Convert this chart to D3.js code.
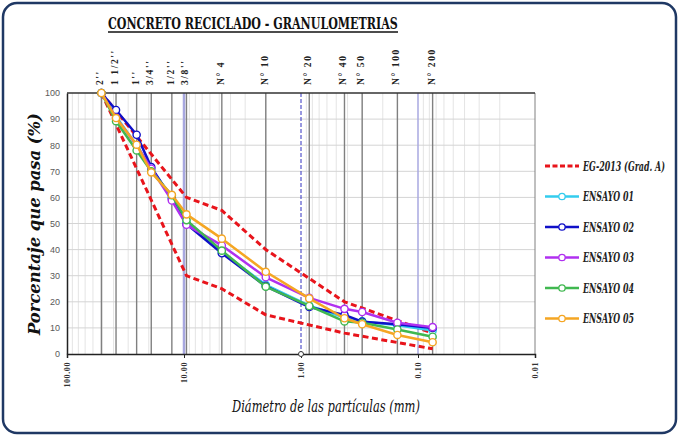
<!DOCTYPE html>
<html><head><meta charset="utf-8">
<script src="https://cdn.jsdelivr.net/npm/d3@7"></script>
<style>html,body{margin:0;padding:0;background:#fff;}svg{display:block;}</style>
</head><body>
<svg id="chart" width="679" height="436"></svg>
<script>
// ---- data ----
const sieveLabels = ["2''", "1 1/2''", "1''", "3/4''", "1/2''", "3/8''", "N° 4", "N° 10", "N° 20", "N° 40", "N° 50", "N° 100", "N° 200"];
const sieveSizes = [50.8, 38.1, 25.4, 19.05, 12.7, 9.525, 4.75, 2.0, 0.85, 0.425, 0.3, 0.15, 0.075];
const ensayo01 = [100, 91, 80, 71, 60, 51, 39, 26.5, 18.5, 14, 12.5, 11, 9];
const ensayo02 = [100, 93.5, 84, 71.6, 59.5, 49.8, 38.6, 26, 18, 15, 12.4, 11.4, 10];
const ensayo03 = [100, 90.5, 80, 71, 58.8, 49.5, 41.6, 29.4, 21.5, 17.3, 16.1, 12, 10.3];
const ensayo04 = [100, 89.2, 78, 70, 60.8, 51.3, 39.6, 25.8, 18.4, 12.5, 12, 9.4, 6.6];
const ensayo05 = [100, 90.4, 80.2, 69.6, 61, 53.5, 44.2, 31.5, 21.3, 13.7, 11.4, 7.3, 4.5];
const egSizes = [50.8, 9.525, 4.75, 2.0, 0.425, 0.075];
const egUpper = [100, 60, 55, 40, 20, 8];
const egLower = [100, 30, 25, 15, 8, 2];
const seriesNames = ["ENSAYO 01", "ENSAYO 02", "ENSAYO 03", "ENSAYO 04", "ENSAYO 05"];
const seriesColors = ["#33CCEE", "#1010C8", "#B030F0", "#40B850", "#F5A623"];
const xTickValues = [100, 10, 1, 0.1, 0.01];
const xTickLabels = ["100.00", "10.00", "1.00", "0.10", "0.01"];
const yTickValues = [0, 10, 20, 30, 40, 50, 60, 70, 80, 90, 100];

const svg = d3.select("#chart");
const L = 67, R = 535, T = 93, B = 354;
const x = d3.scaleLog().domain([100, 0.01]).range([L, R]);
const y = d3.scaleLinear().domain([0, 100]).range([B, T]);

// text squeezed horizontally to a target width (condensed look)
function fitText(parent, tx, ty, rot, str, width, style) {
  const g = parent.append("g").attr("transform", `translate(${tx},${ty}) rotate(${rot})`);
  const t = g.append("text").text(str);
  Object.entries(style).forEach(([k, v]) => t.style(k, v));
  const nat = t.node().getComputedTextLength();
  const s = width / nat;
  t.attr("transform", `scale(${s},1)`);
  return t;
}

svg.append("rect").attr("width", 679).attr("height", 436).attr("fill", "#fff");
svg.append("rect").attr("x", 3).attr("y", 3).attr("width", 673).attr("height", 430)
  .attr("rx", 14).attr("fill", "#fff").attr("stroke", "#1F3864").attr("stroke-width", 2.5);

// minor vertical grid
const minor = [];
for (let e = -2; e <= 1; e++) for (let k = 2; k <= 9; k++) minor.push(k * Math.pow(10, e));
svg.append("g").selectAll("line").data(minor).join("line")
  .attr("x1", d => x(d)).attr("x2", d => x(d)).attr("y1", T).attr("y2", B)
  .attr("stroke", "#E4E4E4").attr("stroke-width", 1);
// horizontal grid
svg.append("g").selectAll("line").data(yTickValues.filter(v => v > 0 && v < 100)).join("line")
  .attr("x1", L).attr("x2", R).attr("y1", d => y(d)).attr("y2", d => y(d))
  .attr("stroke", "#D4D4D4").attr("stroke-width", 1);

// reference lines at 10, 1, 0.1
svg.append("line").attr("x1", x(10)).attr("x2", x(10)).attr("y1", T).attr("y2", B)
  .attr("stroke", "#A8A8E0").attr("stroke-width", 2.5);
svg.append("line").attr("x1", x(0.1)).attr("x2", x(0.1)).attr("y1", T).attr("y2", B)
  .attr("stroke", "#A8A8E0").attr("stroke-width", 1.5);
svg.append("line").attr("x1", x(1)).attr("x2", x(1)).attr("y1", T).attr("y2", B)
  .attr("stroke", "#3030C0").attr("stroke-width", 1).attr("stroke-dasharray", "4,2");

// sieve lines
svg.append("g").selectAll("line").data(sieveSizes).join("line")
  .attr("x1", d => x(d)).attr("x2", d => x(d)).attr("y1", T).attr("y2", B)
  .attr("stroke", "#808080").attr("stroke-width", 1.4);

// frame
svg.append("line").attr("x1", R).attr("x2", R).attr("y1", T).attr("y2", B).attr("stroke", "#808080").attr("stroke-width", 1);
svg.append("line").attr("x1", L).attr("x2", R).attr("y1", T).attr("y2", T).attr("stroke", "#333").attr("stroke-width", 1.5);

// axes
const xAxis = d3.axisBottom(x).tickValues(xTickValues).tickSize(4).tickFormat((d, i) => xTickLabels[i]);
const gx = svg.append("g").attr("transform", `translate(0,${B})`).call(xAxis);
gx.select(".domain").attr("stroke", "#222").attr("stroke-width", 1.5);
gx.selectAll(".tick line").attr("stroke", "#222");
gx.selectAll(".tick text").attr("transform", "rotate(-90)").attr("text-anchor", "end")
  .attr("x", -8).attr("y", 0).attr("dy", "0.32em")
  .style("font-family", "'Liberation Serif', serif").style("font-weight", "bold")
  .style("font-size", "8px").style("letter-spacing", "0.6px").attr("fill", "#333");

const yAxis = d3.axisLeft(y).tickValues(yTickValues).tickSize(0).tickPadding(7);
const gy = svg.append("g").attr("transform", `translate(${L},0)`).call(yAxis);
gy.select(".domain").attr("stroke", "#222").attr("stroke-width", 1.5);
gy.selectAll(".tick text").style("font-family", "'Liberation Sans Narrow','Liberation Sans',sans-serif")
  .style("font-size", "9px").attr("fill", "#595959");

// small marker at 1.00
svg.append("circle").attr("cx", x(1)).attr("cy", B).attr("r", 2.5).attr("fill", "#fff").attr("stroke", "#333").attr("stroke-width", 1);

// top sieve labels
svg.append("g").selectAll("text").data(sieveSizes).join("text")
  .attr("transform", d => `translate(${x(d) + 2},85) rotate(-90)`)
  .attr("text-anchor", "start")
  .style("font-family", "'Liberation Serif', serif").style("font-weight", "bold")
  .style("font-size", "9.5px").style("letter-spacing", "1.6px").attr("fill", "#222")
  .text((d, i) => sieveLabels[i]);

// EG-2013 band
const bandLine = d3.line().x(d => x(d[0])).y(d => y(d[1]));
[egUpper, egLower].forEach(arr => {
  svg.append("path").datum(egSizes.map((s, i) => [s, arr[i]]))
    .attr("d", bandLine).attr("fill", "none").attr("stroke", "#E8141B")
    .attr("stroke-width", 3).attr("stroke-dasharray", "6,3.5").attr("stroke-linejoin", "round");
});

// ensayo series
const allSeries = [ensayo01, ensayo02, ensayo03, ensayo04, ensayo05];
const lin = d3.line().x(d => x(d[0])).y(d => y(d[1]));
allSeries.forEach((arr, si) => {
  const pts = sieveSizes.map((s, i) => [s, arr[i]]);
  const g = svg.append("g");
  g.append("path").datum(pts).attr("d", lin).attr("fill", "none")
    .attr("stroke", seriesColors[si]).attr("stroke-width", 2.5).attr("stroke-linejoin", "round");
  g.selectAll("circle").data(pts).join("circle")
    .attr("cx", d => x(d[0])).attr("cy", d => y(d[1])).attr("r", 3.6)
    .attr("fill", "#fff").attr("stroke", seriesColors[si]).attr("stroke-width", 1.4);
});

// title
fitText(svg, 108, 29, 0, "CONCRETO RECICLADO - GRANULOMETRIAS", 290,
  {"font-family": "'DejaVu Serif', serif", "font-weight": "bold", "font-size": "17px", "fill": "#111"});
svg.append("line").attr("x1", 108).attr("x2", 398).attr("y1", 32).attr("y2", 32).attr("stroke", "#111").attr("stroke-width", 1.5);

// axis titles
fitText(svg, 40, 335, -90, "Porcentaje que pasa  (%)", 222,
  {"font-family": "'DejaVu Serif', serif", "font-weight": "bold", "font-style": "italic", "font-size": "16px", "fill": "#111"});
fitText(svg, 232, 412, 0, "Diámetro de las partículas (mm)", 188,
  {"font-family": "'DejaVu Serif', serif", "font-style": "italic", "font-size": "16px", "fill": "#111"});

// legend
const legendItems = [{name: "EG-2013 (Grad. A)", color: "#E8141B", dashed: true, w: 82}]
  .concat(seriesNames.map((n, i) => ({name: n, color: seriesColors[i], dashed: false, w: 51})));
const lg = svg.append("g");
legendItems.forEach((it, i) => {
  const yy = 166 + i * 30.5;
  lg.append("line").attr("x1", 545).attr("x2", 579).attr("y1", yy).attr("y2", yy)
    .attr("stroke", it.color).attr("stroke-width", it.dashed ? 3 : 2.5)
    .attr("stroke-dasharray", it.dashed ? "5,2.5" : null);
  if (!it.dashed) lg.append("circle").attr("cx", 562).attr("cy", yy).attr("r", 3.2)
    .attr("fill", "#fff").attr("stroke", it.color).attr("stroke-width", 1.3);
  fitText(lg, 583, yy + 4.5, 0, it.name, it.w,
    {"font-family": "'DejaVu Serif', serif", "font-weight": "bold", "font-style": "italic", "font-size": "12.5px", "fill": "#222"});
});
</script>
</body></html>
